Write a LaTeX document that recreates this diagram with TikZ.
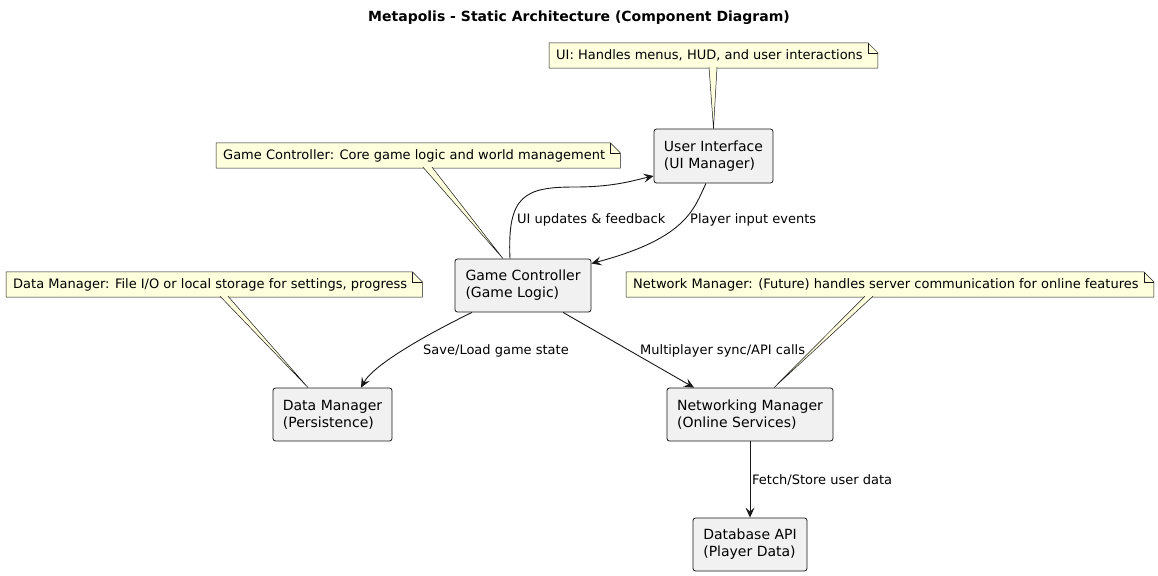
\documentclass[tikz,border=0pt]{standalone}
\usepackage{fontspec}
\setmainfont{DejaVu Sans}
\usepackage{xcolor}
\usetikzlibrary{arrows.meta,backgrounds}

\definecolor{compfill}{HTML}{F1F1F1}
\definecolor{notefill}{HTML}{FEFFDD}
\definecolor{edgeline}{HTML}{181818}

\tikzset{
	comp/.style={draw=edgeline, fill=compfill, rounded corners=2.5pt, line width=0.8pt, align=left, inner sep=0pt, font=\fontsize{14}{17}\selectfont},
	notetext/.style={anchor=west, inner xsep=7pt, inner ysep=0pt, minimum height=25pt, font=\fontsize{13}{15}\selectfont},
	notebg/.style={draw=edgeline, fill=notefill, line width=0.5pt},
	lbl/.style={anchor=west, inner sep=0pt, font=\fontsize{13}{15}\selectfont},
	flow/.style={draw=edgeline, line width=0.9pt, -{Stealth[length=10pt,width=9pt,inset=4pt]}},
}

\begin{document}
\begin{tikzpicture}[x=1pt,y=-1pt]
			\useasboundingbox (0,0) rectangle (1158,575);
			
			%Title
			\node[font=\fontsize{14}{17}\selectfont\bfseries] (title) at (579,18) {Metapolis - Static Architecture (Component Diagram)};
			
			%Components
			\node[comp, minimum width=119pt, minimum height=54pt] (ui) at (713.5,156) {User Interface\\(UI Manager)};
			\node[comp, minimum width=136pt, minimum height=53pt] (gc) at (523,285.5) {Game Controller\\(Game Logic)};
			\node[comp, minimum width=119pt, minimum height=53pt] (dm) at (332.5,414.5) {Data Manager\\(Persistence)};
			\node[comp, minimum width=166pt, minimum height=53pt] (nm) at (750,414.5) {Networking Manager\\(Online Services)};
			\node[comp, minimum width=114pt, minimum height=53pt] (db) at (750,544.5) {Database API\\(Player Data)};
			
			%Notes
			\node[notetext] (uinote) at (549,55.5) {UI: Handles menus, HUD, and user interactions};
			\node[notetext] (gcnote) at (216,155.5) {Game Controller: Core game logic and world management};
			\node[notetext] (dmnote) at (6,284.5) {Data Manager: File I/O or local storage for settings, progress};
			\node[notetext] (nmnote) at (626,284.5) {Network Manager: (Future) handles server communication for online features};
			
			\begin{scope}[on background layer]
				\foreach \n in {uinote,gcnote,dmnote,nmnote}{
					\filldraw[notebg] (\n.south west) -- (\n.north west) -- ([xshift=-2pt]\n.north east) -- ([xshift=8pt,yshift=-10pt]\n.north east) -- ([xshift=8pt]\n.south east) -- cycle;
					\draw[notebg, fill=none] ([xshift=-2pt]\n.north east) |- ([xshift=8pt,yshift=-10pt]\n.north east);
				}
				%Note pointers
				\filldraw[notebg] ([xshift=160pt,yshift=1pt]uinote.south west) -- (ui.north) -- ([xshift=168pt,yshift=1pt]uinote.south west);
				\filldraw[notebg] ([xshift=207pt,yshift=1pt]gcnote.south west) -- ([xshift=-20pt]gc.north) -- ([xshift=216pt,yshift=1pt]gcnote.south west);
				\filldraw[notebg] ([xshift=214pt,yshift=1pt]dmnote.south west) -- ([xshift=-24.5pt]dm.north) -- ([xshift=222pt,yshift=1pt]dmnote.south west);
				\filldraw[notebg] ([xshift=239pt,yshift=1pt]nmnote.south west) -- ([xshift=24pt]nm.north) -- ([xshift=247pt,yshift=1pt]nmnote.south west);
			\end{scope}
			
			%Lines
			\draw[flow] ([xshift=-13pt]gc.north) .. controls (507,195) and (525,187) .. (575,187) .. controls (615,187) and (635,180) .. ([yshift=-20pt]ui.west);
			\draw[flow] ([xshift=-7.5pt]ui.south) .. controls (694,208) and (688,238) .. ([yshift=22pt]gc.east);
			\draw[flow] ([xshift=-51pt]gc.south) .. controls (440,328) and (375,362) .. ([xshift=28.5pt]dm.north);
			\draw[flow] ([xshift=40pt]gc.south) -- ([xshift=-56pt]nm.north);
			\draw[flow] (nm.south) -- (db.north);
			
			%Labels
			\node[lbl] (uplbl) at (517,220) {UI updates \& feedback};
			\node[lbl] (inlbl) at (690,220) {Player input events};
			\node[lbl] (savelbl) at (423,351) {Save/Load game state};
			\node[lbl] (synclbl) at (640,351) {Multiplayer sync/API calls};
			\node[lbl] (fetchlbl) at (752,480) {Fetch/Store user data};
\end{tikzpicture}
\end{document}
